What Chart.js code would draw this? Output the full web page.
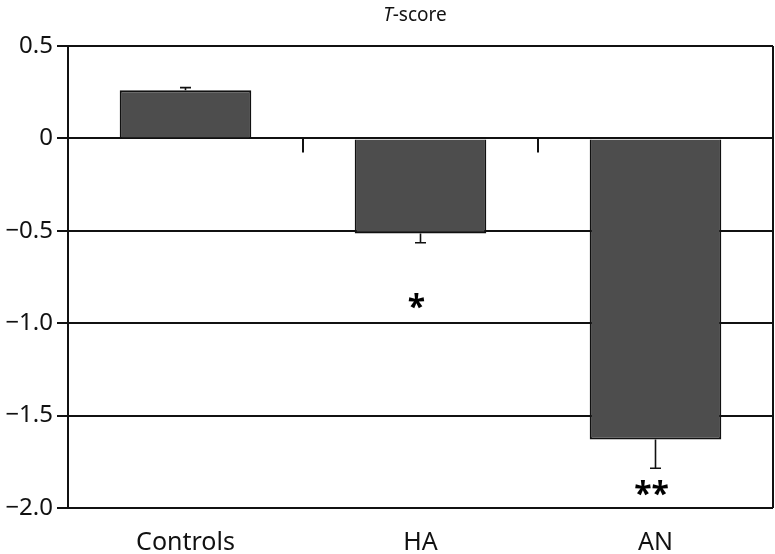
<!DOCTYPE html>
<html>
<head>
<meta charset="utf-8">
<script src="https://cdn.jsdelivr.net/npm/chart.js@4"></script>
<style>
  html, body { margin: 0; padding: 0; background: #fff; }
  #wrap { width: 775px; height: 554px; position: relative; }
</style>
</head>
<body>
<div id="wrap"><canvas id="chart"></canvas></div>
<script>
// data
const groups = ['Controls', 'HA', 'AN'];
const tScore = [0.26, -0.515, -1.63];
const tError = [0.015, 0.05, 0.155];
const signif = ['', '*', '**'];
const signifAt = [null, -0.88, -1.89];
const yTicks = [0.5, 0, -0.5, -1.0, -1.5, -2.0];

const FONT = '"Noto Sans", "Open Sans", sans-serif';

// error bars, significance marks, right frame, zero-line separators, title
const extras = {
  id: 'extras',
  afterDatasetsDraw(chart) {
    const { ctx, chartArea, scales: { x, y } } = chart;
    ctx.save();
    ctx.strokeStyle = '#111';
    ctx.lineWidth = 2;

    // right frame line
    ctx.beginPath();
    ctx.moveTo(chartArea.right, chartArea.top);
    ctx.lineTo(chartArea.right, chartArea.bottom);
    ctx.stroke();

    // small separators under the zero line between groups
    const y0 = y.getPixelForValue(0);
    for (let i = 0; i < groups.length - 1; i++) {
      const xs = (x.getPixelForValue(i) + x.getPixelForValue(i + 1)) / 2;
      ctx.beginPath();
      ctx.moveTo(xs, y0);
      ctx.lineTo(xs, y0 + 14);
      ctx.stroke();
    }

    // error bars
    ctx.lineWidth = 1.6;
    tScore.forEach((v, i) => {
      const cx = x.getPixelForValue(i);
      const end = v >= 0 ? v + tError[i] : v - tError[i];
      const py1 = y.getPixelForValue(v);
      const py2 = y.getPixelForValue(end);
      ctx.beginPath();
      ctx.moveTo(cx, py1);
      ctx.lineTo(cx, py2);
      ctx.moveTo(cx - 5.5, py2);
      ctx.lineTo(cx + 5.5, py2);
      ctx.stroke();
    });

    // significance stars
    ctx.fillStyle = '#000';
    ctx.font = 'bold 32px ' + FONT;
    ctx.textAlign = 'center';
    ctx.textBaseline = 'middle';
    signif.forEach((s, i) => {
      if (!s) return;
      ctx.fillText(s, x.getPixelForValue(i) - 4, y.getPixelForValue(signifAt[i]) + 8);
    });

    // title: italic T + "-score"
    ctx.fillStyle = '#111';
    ctx.font = 'italic 19px ' + FONT;
    const wT = ctx.measureText('T').width;
    ctx.font = '19px ' + FONT;
    const wR = ctx.measureText('-score').width;
    const startX = 415 - (wT + wR) / 2;
    ctx.textAlign = 'left';
    ctx.textBaseline = 'alphabetic';
    ctx.font = 'italic 19px ' + FONT;
    ctx.fillText('T', startX, 21);
    ctx.font = '19px ' + FONT;
    ctx.fillText('-score', startX + wT, 21);
    ctx.restore();
  }
};

new Chart(document.getElementById('chart'), {
  type: 'bar',
  data: {
    labels: groups,
    datasets: [{
      data: tScore,
      backgroundColor: '#4d4d4d',
      borderColor: '#111',
      borderWidth: 2,
      borderSkipped: 'start',
      barPercentage: 0.56,
      categoryPercentage: 1
    }]
  },
  options: {
    responsive: true,
    maintainAspectRatio: false,
    animation: false,
    layout: { padding: { top: 46, right: 2, left: 0, bottom: 0 } },
    plugins: { legend: { display: false }, tooltip: { enabled: false } },
    scales: {
      x: {
        grid: { display: false, drawTicks: false },
        border: { display: false },
        ticks: { color: '#111', font: { family: FONT, size: 25 }, padding: 20 },
        afterFit: s => { s.height = 46; }
      },
      y: {
        min: -2, max: 0.5,
        afterBuildTicks: s => { s.ticks = yTicks.map(v => ({ value: v })); },
        grid: { color: '#111', lineWidth: 2, tickLength: 11, drawOnChartArea: true },
        border: { color: '#111', width: 2 },
        ticks: {
          color: '#111',
          font: { family: FONT, size: 24 },
          padding: 4,
          callback: v => v === 0 ? '0' : (v < 0 ? '\u2212' : '') + (v === -2 || v === -1 ? Math.abs(v).toFixed(1) : String(Math.abs(v)))
        },
        afterFit: s => { s.width = 68; }
      }
    }
  },
  plugins: [extras]
});
</script>
</body>
</html>
